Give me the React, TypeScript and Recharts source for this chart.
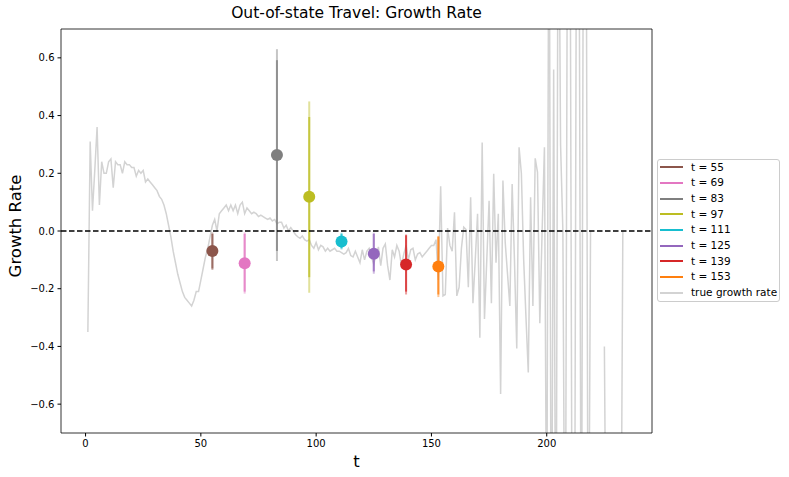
import React from 'react';
import { ComposedChart, Line, Scatter, XAxis, YAxis, ReferenceLine, Legend } from 'recharts';

// observed growth rate, t = 1 .. 234 (null = no value)
const growthRate: (number | null)[] = [
  -0.35, 0.31, 0.07, 0.21, 0.36, 0.09, 0.24, 0.2, 0.2, 0.24,
  0.25, 0.15, 0.24, 0.23, 0.23, 0.2, 0.24, 0.23, 0.23, 0.22,
  0.22, 0.19, 0.21, 0.2, 0.21, 0.17, 0.18, 0.17, 0.16, 0.15,
  0.14, 0.12, 0.11, 0.09, 0.06, 0.02, -0.02, -0.07, -0.11, -0.15,
  -0.18, -0.21, -0.23, -0.24, -0.25, -0.26, -0.24, -0.21, -0.21, -0.17,
  -0.13, -0.09, -0.06, -0.02, 0.02, 0.04, 0.0, 0.06, 0.07, 0.08,
  0.09, 0.07, 0.09, 0.07, 0.09, 0.06, 0.09, 0.1, 0.06, 0.08,
  0.07, 0.06, 0.065, 0.06, 0.05, 0.055, 0.05, 0.045, 0.04, 0.045,
  0.035, 0.04, 0.025, 0.03, 0.03, 0.01, 0.02, 0.0, 0.012, 0.0,
  -0.012, -0.02, -0.025, -0.017, -0.03, -0.035, -0.03, -0.05, -0.06, -0.04,
  -0.065, -0.05, -0.055, -0.07, -0.06, -0.07, -0.065, -0.06, -0.07, -0.07,
  -0.075, -0.08, -0.075, -0.06, -0.085, -0.09, -0.07, -0.09, -0.11, -0.065,
  -0.1, -0.07, -0.06, -0.09, -0.115, -0.08, -0.055, -0.12, -0.06, -0.045,
  -0.12, -0.17, -0.065, -0.09, -0.05, -0.07, -0.12, -0.08, -0.05, -0.1,
  -0.065, -0.06, -0.1, -0.08, -0.075, -0.09, -0.08, -0.07, -0.06, -0.05,
  -0.05, -0.03, -0.17, 0.155, -0.225, -0.22, 0.01, -0.05, -0.07, 0.065,
  -0.225, -0.195, -0.06, 0.013, 0.005, -0.195, 0.117, -0.25, -0.1, 0.06,
  -0.37, 0.307, -0.305, -0.1, 0.105, -0.25, 0.198, -0.11, 0.06, -0.565,
  0.175, -0.04, -0.15, -0.26, 0.163, -0.1, -0.407, 0.29, 0.2, -0.1,
  -0.3, -0.49, 0.117, -0.26, 0.252, 0.203, -0.32, 0.0, 0.29, -1.2,
  1.5, -1.5, 0.56, -1.5, 1.5, 0.3, 0.0, -1.5, 1.2, 1.5,
  -1.2, -1.5, 1.5, 1.2, -1.5, 1.5, 1.5, -1.5, 0.0, null,
  null, null, null, null, -0.4, -1.5, null, null, null, null,
  null, -1.5, 0.0, null,
];

// forecasts made at these t
const forecastT = [55, 69, 83, 97, 111, 125, 139, 153];
const forecastMean = [-0.069, -0.112, 0.263, 0.119, -0.036, -0.079, -0.116, -0.123];
const innerLow = [-0.13, -0.21, -0.069, -0.16, -0.06, -0.14, -0.21, -0.22];
const innerHigh = [-0.01, -0.01, 0.592, 0.395, -0.01, -0.01, -0.015, -0.02];
const outerLow = [-0.135, -0.217, -0.104, -0.214, -0.064, -0.148, -0.22, -0.229];
const outerHigh = [-0.005, -0.005, 0.63, 0.449, -0.006, -0.006, -0.012, -0.017];
const forecastColors = ['#8c564b', '#e377c2', '#7f7f7f', '#bcbd22', '#17becf', '#9467bd', '#d62728', '#ff7f0e'];

const xTicks = [0, 50, 100, 150, 200];
const yTicks = [-0.6, -0.4, -0.2, 0, 0.2, 0.4, 0.6];
const xDomain: [number, number] = [-10.65, 245.65];
const yDomain: [number, number] = [-0.7, 0.7];

const FONT = '"DejaVu Sans", sans-serif';
const TRUE_COLOR = '#d3d3d3';

const rateData = growthRate.map((v, i) => ({ t: i + 1, v }));

const legendItems = [
  ...forecastT.map((t, i) => ({ label: `t = ${t}`, color: forecastColors[i] })),
  { label: 'true growth rate', color: TRUE_COLOR },
];

const fmtY = (v: number) => (v < -1e-9 ? '\u2212' : '') + Math.abs(v).toFixed(1);

const tickStyle = { fill: '#000', fontSize: 10, fontFamily: FONT };
const axisLine = { stroke: '#000', strokeWidth: 0.8 };

const renderLegend = () => (
  <div
    style={{
      width: 123,
      boxSizing: 'border-box',
      border: '1px solid #cccccc',
      borderRadius: 3,
      background: 'rgba(255,255,255,0.8)',
      fontFamily: FONT,
      fontSize: 10.5,
      color: '#000',
    }}
  >
    {legendItems.map((item) => (
      <div key={item.label} style={{ height: 15.7, display: 'flex', alignItems: 'center' }}>
        <span style={{ display: 'inline-block', width: 23, height: 2, marginLeft: 2, marginRight: 8, background: item.color }} />
        <span style={{ whiteSpace: 'nowrap', lineHeight: '15.7px' }}>{item.label}</span>
      </div>
    ))}
  </div>
);

export default function App() {
  return (
    <div style={{ position: 'relative', width: 789, height: 477, background: '#fff' }}>
      <style>{'body{margin:0}'}</style>
      <div
        style={{
          position: 'absolute',
          left: 61,
          width: 591,
          top: 3,
          textAlign: 'center',
          fontFamily: FONT,
          fontSize: 15.5,
          lineHeight: '20px',
          color: '#000',
          whiteSpace: 'nowrap',
        }}
      >
        Out-of-state Travel: Growth Rate
      </div>
      <ComposedChart width={789} height={477} margin={{ top: 29, right: 137, bottom: 0, left: 0 }}>
        <XAxis
          dataKey="t"
          type="number"
          domain={xDomain}
          allowDataOverflow
          ticks={xTicks}
          height={44}
          tick={tickStyle}
          tickSize={3.5}
          tickMargin={3}
          tickLine={{ stroke: '#000' }}
          axisLine={axisLine}
          label={{
            content: ({ viewBox }: any) => (
              <text x={viewBox.x + viewBox.width / 2} y={467} textAnchor="middle" fontSize={16.5} fontFamily={FONT} fill="#000">
                t
              </text>
            ),
          }}
        />
        <YAxis
          type="number"
          domain={yDomain}
          allowDataOverflow
          ticks={yTicks}
          tickFormatter={fmtY}
          width={61}
          tick={tickStyle}
          tickSize={3.5}
          tickMargin={3}
          tickLine={{ stroke: '#000' }}
          axisLine={axisLine}
          label={{
            content: ({ viewBox }: any) => {
              const cx = 15;
              const cy = viewBox.y + viewBox.height / 2 - 5;
              return (
                <text
                  x={cx}
                  y={cy}
                  transform={`rotate(-90, ${cx}, ${cy})`}
                  textAnchor="middle"
                  dominantBaseline="central"
                  fontSize={16.5}
                  fontFamily={FONT}
                  fill="#000"
                >
                  Growth Rate
                </text>
              );
            },
          }}
        />

        <Line
          data={rateData}
          dataKey="v"
          stroke={TRUE_COLOR}
          strokeWidth={1.5}
          dot={false}
          activeDot={false}
          connectNulls={false}
          isAnimationActive={false}
        />

        {forecastT.map((t, i) => (
          <Line
            key={`outer-${t}`}
            data={[{ t, v: outerLow[i] }, { t, v: outerHigh[i] }]}
            dataKey="v"
            stroke={forecastColors[i]}
            strokeOpacity={0.45}
            strokeWidth={2}
            dot={false}
            activeDot={false}
            isAnimationActive={false}
          />
        ))}
        {forecastT.map((t, i) => (
          <Line
            key={`inner-${t}`}
            data={[{ t, v: innerLow[i] }, { t, v: innerHigh[i] }]}
            dataKey="v"
            stroke={forecastColors[i]}
            strokeOpacity={0.75}
            strokeWidth={2}
            dot={false}
            activeDot={false}
            isAnimationActive={false}
          />
        ))}

        <ReferenceLine y={0} stroke="#000" strokeWidth={1.5} strokeDasharray="5.5 2.5" />
        {/* top and right frame lines */}
        <ReferenceLine y={yDomain[1]} stroke="#000" strokeWidth={0.8} />
        <ReferenceLine x={xDomain[1]} stroke="#000" strokeWidth={0.8} />

        {forecastT.map((t, i) => (
          <Scatter
            key={`mean-${t}`}
            data={[{ t, v: forecastMean[i] }]}
            dataKey="v"
            isAnimationActive={false}
            shape={(p: any) => <circle cx={p.cx} cy={p.cy} r={6} fill={forecastColors[i]} />}
          />
        ))}

        <Legend
          layout="vertical"
          align="center"
          verticalAlign="middle"
          content={renderLegend}
          wrapperStyle={{ left: 657, top: 158.5, width: 123, height: 144 }}
        />
      </ComposedChart>
    </div>
  );
}
